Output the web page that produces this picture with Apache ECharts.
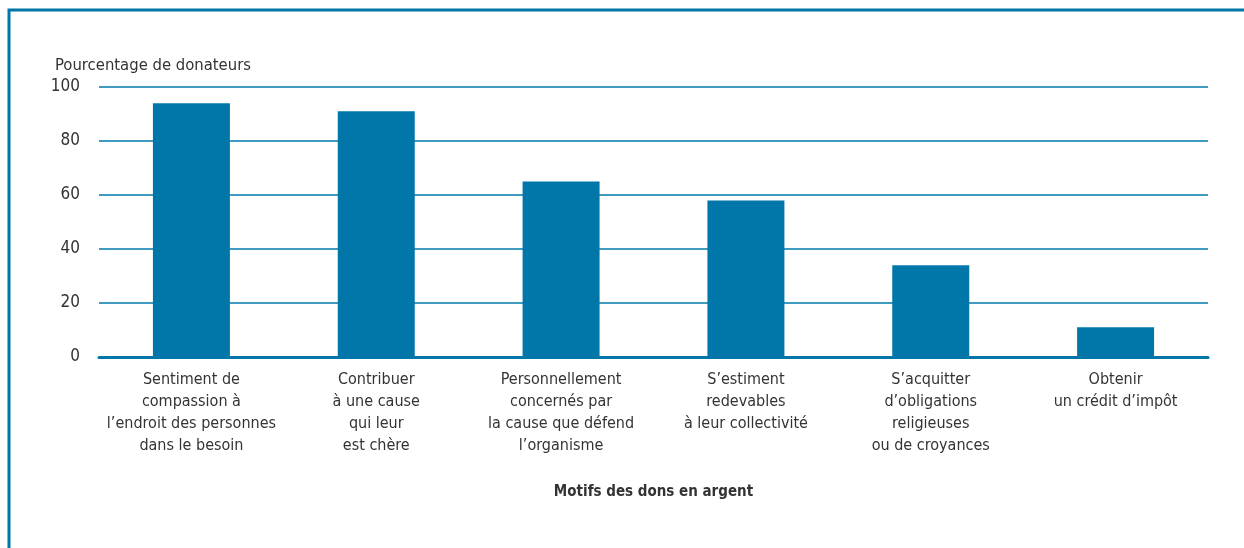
<!DOCTYPE html>
<html>
<head>
    <meta charset="utf-8" />
    <title>Motifs des dons en argent</title>
    <style>
        html, body { margin: 0; padding: 0; background: #fff; }
        #main { width: 1244px; height: 548px; }
    </style>
</head>
<body>
<div id="main"></div>
<script src="https://cdn.jsdelivr.net/npm/echarts@6/dist/echarts.min.js"></script>
<script type="text/javascript">
    var categories = [
        'Sentiment de\ncompassion à\nl\u2019endroit des personnes\ndans le besoin',
        'Contribuer\nà une cause\nqui leur\nest chère',
        'Personnellement\nconcernés par\nla cause que défend\nl\u2019organisme',
        'S\u2019estiment\nredevables\nà leur collectivité',
        'S\u2019acquitter\nd\u2019obligations\nreligieuses\nou de croyances',
        'Obtenir\nun crédit d\u2019impôt'
    ];
    var values = [94, 91, 65, 58, 34, 11];
    var yTicks = [0, 20, 40, 60, 80, 100];

    var blue = '#0077a8';
    var font = "'Liberation Sans Narrow', 'DejaVu Sans Condensed', 'Liberation Sans', sans-serif";

    var myChart = echarts.init(document.getElementById('main'));
    var option = {
        backgroundColor: '#fff',
        animation: false,
        graphic: [{
            type: 'rect',
            shape: { x: 9, y: 10, width: 1400, height: 700 },
            style: { fill: null, stroke: blue, lineWidth: 3 }
        }],
        title: {
            text: 'Pourcentage de donateurs',
            left: 50,
            top: 52,
            textStyle: { fontFamily: font, fontSize: 16.5, fontWeight: 'normal', color: '#333' }
        },
        grid: { left: 99, right: 36, top: 87, bottom: 191, containLabel: false },
        xAxis: {
            type: 'category',
            data: categories,
            name: 'Motifs des dons en argent',
            nameLocation: 'middle',
            nameGap: 128,
            nameTextStyle: { fontFamily: font, fontSize: 15, fontWeight: 'bold', color: '#333' },
            axisTick: { show: false },
            axisLine: { lineStyle: { color: blue, width: 3 } },
            axisLabel: {
                interval: 0,
                margin: 12,
                fontFamily: font,
                fontSize: 16,
                lineHeight: 22,
                color: '#333',
                verticalAlign: 'top'
            }
        },
        yAxis: {
            type: 'value',
            min: yTicks[0],
            max: yTicks[yTicks.length - 1],
            interval: yTicks[1] - yTicks[0],
            axisLine: { show: false },
            axisTick: { show: false },
            splitLine: { lineStyle: { color: blue, width: 1.5 } },
            axisLabel: { fontFamily: font, fontSize: 17, color: '#333', margin: 19 }
        },
        series: [{
            type: 'bar',
            data: values,
            barWidth: 77,
            itemStyle: { color: blue }
        }]
    };
    myChart.setOption(option);
</script>
</body>
</html>
